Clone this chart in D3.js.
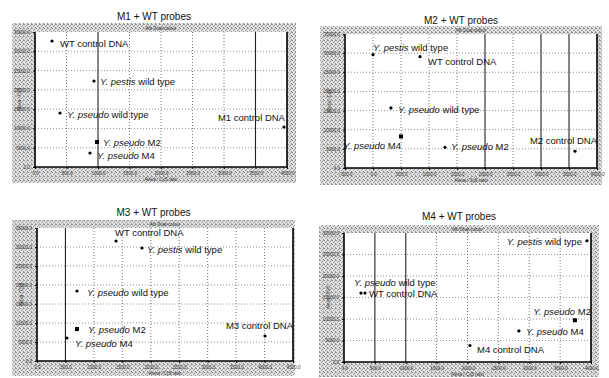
<!DOCTYPE html>
<html>
<head>
<meta charset="utf-8">
<script src="https://cdn.jsdelivr.net/npm/d3@7"></script>
<style>
  body { margin: 0; background: #fff; }
  svg { display: block; font-family: "Liberation Sans", Arial, sans-serif; }
</style>
</head>
<body>
<div id="chart"></div>
<script>
// point order: WT control, Y. pestis wt, Y. pseudo wt, Y. pseudo M2, Y. pseudo M4, Mx control
const m1Names = ["WT control DNA", "Y. pestis wild type", "Y. pseudo wild type", "Y. pseudo M2", "Y. pseudo M4", "M1 control DNA"];
const m1X = [270, 936, 397, 984, 873, 3952];
const m1Y = [32670, 22300, 14000, 6480, 3630, 10370];
const m1Shape = ["c", "c", "c", "s", "c", "c"];

const m2Names = ["WT control DNA", "Y. pestis wild type", "Y. pseudo wild type", "Y. pseudo M2", "Y. pseudo M4", "M2 control DNA"];
const m2X = [839, 0, 321, 1286, 500, 3607];
const m2Y = [29090, 29600, 15700, 5400, 8240, 4375];
const m2Shape = ["c", "c", "c", "c", "s", "c"];

const m3Names = ["WT control DNA", "Y. pestis wild type", "Y. pseudo wild type", "Y. pseudo M2", "Y. pseudo M4", "M3 control DNA"];
const m3X = [1389, 1846, 703, 703, 527, 4008];
const m3Y = [31580, 29740, 18420, 8420, 6050, 6580];
const m3Shape = ["c", "c", "c", "s", "c", "c"];

const m4Names = ["WT control DNA", "Y. pestis wild type", "Y. pseudo wild type", "Y. pseudo M2", "Y. pseudo M4", "M4 control DNA"];
const m4X = [340, 3934, 275, 3740, 2833, 2040];
const m4Y = [16020, 28200, 16020, 9700, 7220, 3835];
const m4Shape = ["c", "c", "c", "s", "c", "c"];

// tick values per panel
const xTicks8 = [0, 500, 1000, 1500, 2000, 2500, 3000, 3500, 4000];
const xTicks9a = [-500, 0, 500, 1000, 1500, 2000, 2500, 3000, 3500, 4000];
const xTicks9b = [0, 500, 1000, 1500, 2000, 2500, 3000, 3500, 4000, 4500];
const yTicks7 = [0, 5000, 10000, 15000, 20000, 25000, 30000, 35000];
const yTicks6 = [0, 5000, 10000, 15000, 20000, 25000, 30000];

const titles = ["M1  + WT probes", "M2  + WT probes", "M3  + WT probes", "M4  + WT probes"];

const svg = d3.select("#chart").append("svg")
    .attr("width", 609)
    .attr("height", 378);

// grainy scanned-grey background
const pat = svg.append("defs").append("pattern")
    .attr("id", "grain")
    .attr("width", 4).attr("height", 4)
    .attr("patternUnits", "userSpaceOnUse");
pat.append("rect").attr("width", 4).attr("height", 4).attr("fill", "#e2e2e2");
[[0, 0], [2, 1], [1, 2], [3, 3], [3, 0]].forEach(p => {
    pat.append("rect").attr("x", p[0]).attr("y", p[1]).attr("width", 1).attr("height", 1).attr("fill", "#929292");
});

// layout of each panel (frame + plot area + label placement)
const panels = [
    {
        names: m1Names, xs: m1X, ys: m1Y, shapes: m1Shape, title: titles[0],
        xTicks: xTicks8, yTicks: yTicks7, solid: [2, 7],
        bg: [12, 23, 296, 183], plot: [35, 32, 287, 167], titleY: 16,
        lab: [[8, 6, "start"], [6, 4, "start"], [7, 5, "start"], [6, 4, "start"], [7, 6, "start"], [1, -6, "end"]]
    },
    {
        names: m2Names, xs: m2X, ys: m2Y, shapes: m2Shape, title: titles[1],
        xTicks: xTicks9a, yTicks: yTicks7, solid: [5, 7, 8],
        bg: [320, 26, 602, 185], plot: [345, 34, 597, 168], titleY: 20,
        lab: [[8, 8, "start"], [0, -4, "start"], [7, 5, "start"], [6, 3, "start"], [0, 13, "end"], [22, -7, "end"]]
    },
    {
        names: m3Names, xs: m3X, ys: m3Y, shapes: m3Shape, title: titles[2],
        xTicks: xTicks9b, yTicks: yTicks7, solid: [1],
        bg: [12, 220, 295, 376], plot: [37, 228, 293, 361], titleY: 212,
        lab: [[-1, -5, "start"], [5, 5, "start"], [10, 5, "start"], [11, 4, "start"], [8, 9, "start"], [28, -7, "end"]]
    },
    {
        names: m4Names, xs: m4X, ys: m4Y, shapes: m4Shape, title: titles[3],
        xTicks: xTicks8, yTicks: yTicks6, solid: [1, 2],
        bg: [319, 225, 599, 377], plot: [344, 233, 591, 362], titleY: 216,
        lab: [[4, 4, "start"], [-5, 4, "end"], [-7, -7, "start"], [16, -5, "end"], [7, 4, "start"], [7, 7, "start"]]
    }
];

function fmt(v) {
    return d3.format(".1f")(v);
}

function drawPanel(p) {
    const [bx0, by0, bx1, by1] = p.bg;
    const [px0, py0, px1, py1] = p.plot;
    const g = svg.append("g");

    const x = d3.scaleLinear().domain(d3.extent(p.xTicks)).range([px0, px1]);
    const y = d3.scaleLinear().domain(d3.extent(p.yTicks)).range([py1, py0]);

    // title
    g.append("text")
        .attr("x", (bx0 + bx1) / 2)
        .attr("y", p.titleY + 4)
        .attr("text-anchor", "middle")
        .attr("font-size", "10px")
        .attr("fill", "#111")
        .text(p.title);

    g.append("rect")
        .attr("x", bx0).attr("y", by0)
        .attr("width", bx1 - bx0).attr("height", by1 - by0)
        .attr("fill", "url(#grain)");

    g.append("rect")
        .attr("x", px0).attr("y", py0)
        .attr("width", px1 - px0).attr("height", py1 - py0)
        .attr("fill", "#fff");

    // horizontal grid
    g.selectAll("line.hg").data(p.yTicks.slice(1, -1)).enter().append("line")
        .attr("x1", px0).attr("x2", px1)
        .attr("y1", d => y(d)).attr("y2", d => y(d))
        .attr("stroke", "#777").attr("stroke-width", 0.8)
        .attr("stroke-dasharray", "1,2");

    // vertical grid, some lines came out solid in the scan
    g.selectAll("line.vg").data(p.xTicks.slice(1, -1)).enter().append("line")
        .attr("x1", d => x(d)).attr("x2", d => x(d))
        .attr("y1", py0).attr("y2", py1)
        .attr("stroke", (d, i) => p.solid.includes(i + 1) ? "#222" : "#555")
        .attr("stroke-width", (d, i) => p.solid.includes(i + 1) ? 1.1 : 0.8)
        .attr("stroke-dasharray", (d, i) => p.solid.includes(i + 1) ? "none" : "1,2");

    // axes frame
    g.append("path")
        .attr("d", `M${px0},${py0} V${py1} H${px1} V${py0}`)
        .attr("fill", "none")
        .attr("stroke", "#000")
        .attr("stroke-width", 1.6);

    const yAxis = d3.axisLeft(y).tickValues(p.yTicks).tickSize(2).tickFormat(fmt);
    const ya = g.append("g").attr("transform", `translate(${px0},0)`).call(yAxis);
    const xAxis = d3.axisBottom(x).tickValues(p.xTicks).tickSize(2).tickFormat(fmt);
    const xa = g.append("g").attr("transform", `translate(0,${py1})`).call(xAxis);
    [ya, xa].forEach(a => {
        a.select(".domain").remove();
        a.selectAll("text").attr("font-size", "4.5px").attr("fill", "#333")
            .attr("font-family", "Liberation Sans, Arial, sans-serif");
        a.selectAll("line").attr("stroke", "#000");
    });

    // axis titles (tiny)
    g.append("text")
        .attr("x", (px0 + px1) / 2).attr("y", py0 - 2)
        .attr("text-anchor", "middle").attr("font-size", "4.5px").attr("fill", "#333")
        .text("Alb Dual-colour");
    g.append("text")
        .attr("x", (px0 + px1) / 2).attr("y", Math.min(py1 + 14, 376))
        .attr("text-anchor", "middle").attr("font-size", "4.5px").attr("fill", "#333")
        .text("Alexa / Cy5 ratio");
    g.append("text")
        .attr("transform", `translate(${px0 - 14},${(py0 + py1) / 2}) rotate(-90)`)
        .attr("text-anchor", "middle").attr("font-size", "4.5px").attr("fill", "#333")
        .text("Alexa / Cy3");

    const pts = p.names.map((n, i) => ({ name: n, x: p.xs[i], y: p.ys[i], shape: p.shapes[i], lab: p.lab[i] }));

    g.selectAll("circle.pt").data(pts.filter(d => d.shape === "c")).enter().append("circle")
        .attr("cx", d => x(d.x)).attr("cy", d => y(d.y))
        .attr("r", 1.6).attr("fill", "#000");
    g.selectAll("rect.pt").data(pts.filter(d => d.shape === "s")).enter().append("rect")
        .attr("x", d => x(d.x) - 2).attr("y", d => y(d.y) - 2)
        .attr("width", 4).attr("height", 4).attr("fill", "#000");

    // point labels, species part in italics
    const lab = g.selectAll("text.lab").data(pts).enter().append("text")
        .attr("x", d => x(d.x) + d.lab[0])
        .attr("y", d => y(d.y) + d.lab[1])
        .attr("text-anchor", d => d.lab[2])
        .attr("font-size", "9.5px")
        .attr("fill", "#111");
    lab.each(function (d) {
        const t = d3.select(this);
        const m = d.name.match(/^(Y\. \w+)(.*)$/);
        if (m) {
            t.append("tspan").attr("font-style", "italic").text(m[1]);
            t.append("tspan").text(m[2]);
        } else {
            t.text(d.name);
        }
    });
}

panels.forEach(drawPanel);
</script>
</body>
</html>
